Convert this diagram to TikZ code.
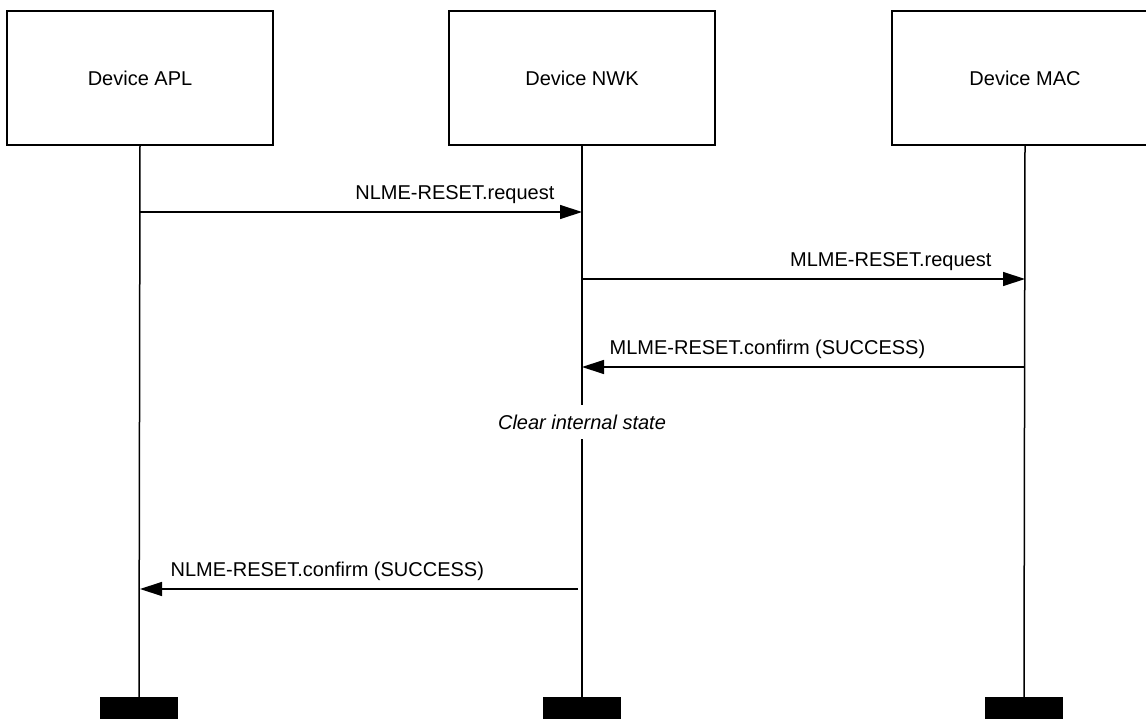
\documentclass[tikz,border=0pt]{standalone}
\usepackage{fontspec}
\setmainfont{Liberation Sans}
\usetikzlibrary{arrows.meta}

\tikzset{
  device/.style={draw, line width=1.4pt, minimum width=266pt, minimum height=134pt, inner sep=0pt},
  lifeend/.style={fill=black, minimum width=78pt, minimum height=24pt, inner sep=0pt},
  lifeline/.style={line width=1.5pt},
  msg/.style={line width=1.3pt, -{Triangle[length=22pt,width=14pt]}},
  lbl/.style={inner sep=0pt, font=\fontsize{20}{24}\selectfont},
}

\begin{document}
\begin{tikzpicture}[x=1pt, y=-1pt, font=\fontsize{20}{24}\selectfont]

  % Rahmen
  \useasboundingbox (0,0) rectangle (1146,719);

  % Instanzen
  \node[device] (apl) at (140,78)  {Device APL};
  \node[device] (nwk) at (582,78)  {Device NWK};
  \node[device] (mac) at (1025,78) {Device MAC};

  % Enden der Lebenslinien
  \node[lifeend] (aplend) at (139,709)  {};
  \node[lifeend] (nwkend) at (582,709)  {};
  \node[lifeend] (macend) at (1024,709) {};

  % Lebenslinien
  \foreach \n in {apl,nwk,mac} {
      \draw[lifeline] (\n.south) -- (\n end.north);
    }

  % Nachrichten
  \draw[msg] (apl |- 0,212) -- (nwk |- 0,212)
    node[lbl, at end, anchor=south east, xshift=-27pt, yshift=8pt] {NLME-RESET.request};
  \draw[msg] (nwk |- 0,279) -- (mac |- 0,279)
    node[lbl, at end, anchor=south east, xshift=-33pt, yshift=8pt] {MLME-RESET.request};
  \draw[msg] (mac |- 0,367) -- (nwk |- 0,367)
    node[lbl, at end, anchor=south west, xshift=27pt, yshift=8pt] {MLME-RESET.confirm (SUCCESS)};

  % Aktion
  \node[fill=white, inner xsep=2pt, inner ysep=10pt, font=\fontsize{20}{24}\selectfont\itshape] (clear) at (582,422) {Clear internal state};

  \draw[msg] ([xshift=-4pt]nwk |- 0,589) -- (apl |- 0,589)
    node[lbl, at end, anchor=south west, xshift=30pt, yshift=8pt] {NLME-RESET.confirm (SUCCESS)};

\end{tikzpicture}
\end{document}
